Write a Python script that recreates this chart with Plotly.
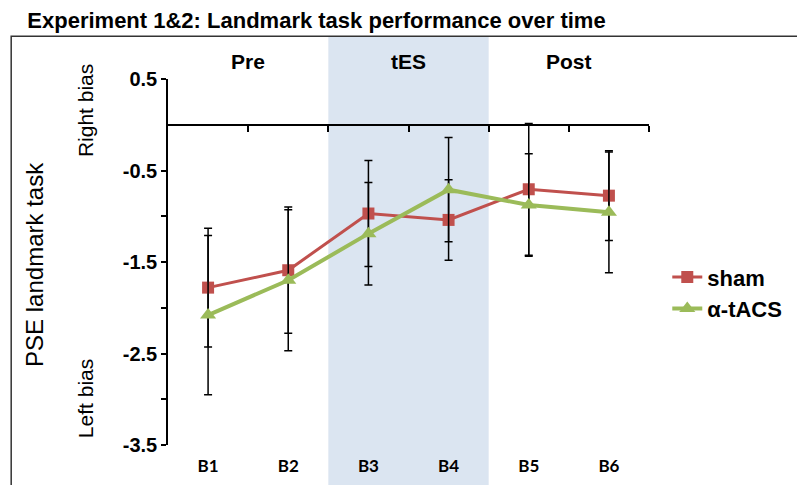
import plotly.graph_objects as go

blocks = ["B1", "B2", "B3", "B4", "B5", "B6"]
sham = [-1.78, -1.59, -0.97, -1.04, -0.705, -0.775]
sham_err = [0.65, 0.69, 0.58, 0.44, 0.72, 0.49]
tacs = [-2.08, -1.70, -1.19, -0.71, -0.877, -0.957]
tacs_err = [0.87, 0.77, 0.56, 0.57, 0.56, 0.66]
phases = ["Pre", "tES", "Post"]
phase_centers = [0.5, 2.5, 4.5]
tes_span = [1.5, 3.5]
ytick_vals = [0.5, -0.5, -1, -1.5, -2, -2.5, -3, -3.5]
ytick_text = ["0.5", "-0.5", "", "-1.5", "", "-2.5", "", "-3.5"]
boundary_ticks = [0.5, 1.5, 2.5, 3.5, 4.5, 5.5]

xs = list(range(len(blocks)))
ARIAL = "Liberation Sans"

fig = go.Figure()
fig.add_trace(go.Scatter(
    x=xs, y=sham, name="sham", mode="lines+markers",
    line=dict(color="#c0504d", width=3),
    marker=dict(symbol="square", size=12, color="#c0504d"),
    error_y=dict(type="data", array=sham_err, visible=True, color="black", thickness=1.5, width=4),
))
fig.add_trace(go.Scatter(
    x=xs, y=tacs, name="α-tACS", mode="lines+markers",
    line=dict(color="#9bbb59", width=4),
    marker=dict(symbol="triangle-up", size=14, color="#9bbb59"),
    error_y=dict(type="data", array=tacs_err, visible=True, color="black", thickness=1.5, width=4),
))
fig.add_trace(go.Scatter(x=[None], y=[None], xaxis="x2", showlegend=False, hoverinfo="skip"))

fig.add_shape(type="rect", xref="x", yref="paper", x0=tes_span[0], x1=tes_span[1],
              y0=-0.15, y1=1.115, fillcolor="#dbe5f1", line=dict(width=0), layer="below")
fig.add_shape(type="rect", xref="paper", yref="paper", x0=-0.326, x1=1.4,
              y0=-0.2, y1=1.117, line=dict(color="#333333", width=1.5), fillcolor="rgba(0,0,0,0)", layer="below")

for name, cx in zip(phases, phase_centers):
    fig.add_annotation(x=cx, y=1.049, xref="x", yref="paper", text=name, showarrow=False,
                       xanchor="center", yanchor="middle",
                       font=dict(family=ARIAL, size=21, color="black", weight="bold"))

side_font = dict(family=ARIAL, size=21, color="black")
fig.add_annotation(x=-0.2765, y=0.492, xref="paper", yref="paper", text="PSE landmark task",
                   textangle=-90, showarrow=False, xanchor="center", yanchor="middle",
                   font=dict(family=ARIAL, size=24, color="black"))
fig.add_annotation(x=-0.1726, y=0.915, xref="paper", yref="paper", text="Right bias",
                   textangle=-90, showarrow=False, xanchor="center", yanchor="middle", font=side_font)
fig.add_annotation(x=-0.1726, y=0.128, xref="paper", yref="paper", text="Left bias",
                   textangle=-90, showarrow=False, xanchor="center", yanchor="middle", font=side_font)

fig.update_layout(
    width=805, height=485, autosize=False,
    margin=dict(l=160, r=164, t=71, b=48, pad=0),
    paper_bgcolor="white", plot_bgcolor="rgba(0,0,0,0)",
    title=dict(text="Experiment 1&2: Landmark task performance over time", x=0.024, xanchor="left",
               y=0.975, yanchor="middle", font=dict(family=ARIAL, size=22, color="black", weight="bold")),
    xaxis=dict(range=[-0.5, 5.5], tickmode="array", tickvals=xs, ticktext=blocks,
               showline=False, showgrid=False, zeroline=False, ticks="", ticklabelstandoff=9,
               tickfont=dict(family="Lato", size=17, color="black", weight="bold")),
    xaxis2=dict(overlaying="x", matches="x", anchor="free", position=0.875, side="bottom",
                tickmode="array", tickvals=boundary_ticks, showticklabels=False,
                showline=True, linecolor="black", linewidth=1.5, ticks="outside",
                ticklen=6, tickwidth=1.5, tickcolor="black", showgrid=False, zeroline=False),
    yaxis=dict(range=[-3.5, 0.5], tickmode="array", tickvals=ytick_vals, ticktext=ytick_text,
               showline=True, linecolor="black", linewidth=1.5, ticks="outside", ticklen=5,
               tickwidth=1.5, tickcolor="black", showgrid=False, zeroline=False,
               tickfont=dict(family=ARIAL, size=20, color="black", weight="bold")),
    legend=dict(x=1.038, y=0.516, xanchor="left", yanchor="top", bgcolor="rgba(0,0,0,0)",
                font=dict(family=ARIAL, size=22, color="black", weight="bold")),
    showlegend=True,
)

fig.write_html("out.html")
